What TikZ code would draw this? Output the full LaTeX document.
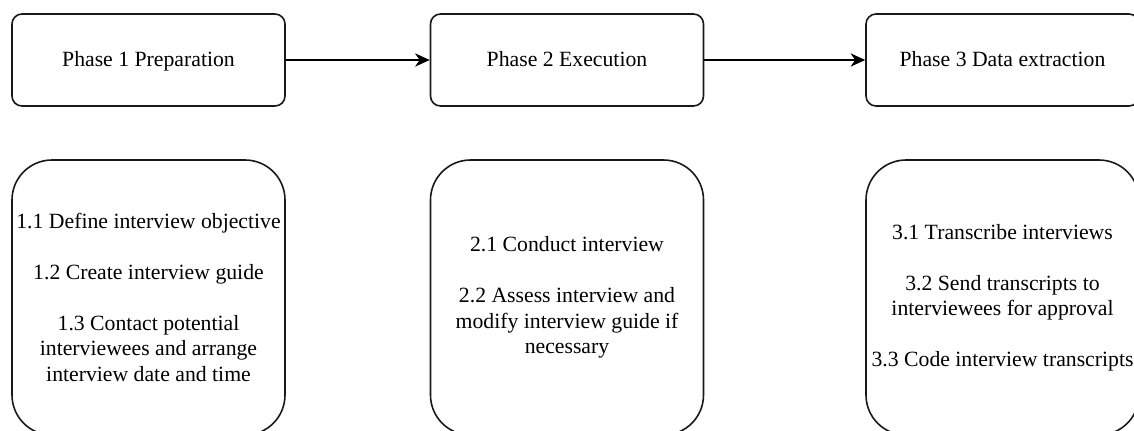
\documentclass[tikz,border=0pt]{standalone}
\usepackage{fontspec}
\setmainfont{Liberation Serif}
\usetikzlibrary{arrows.meta}

% one picture unit = one pixel of the 1134 x 430 layout
\tikzset{
  x=0.75pt, y=-0.75pt,
  phasebox/.style={draw=black!90, line width=1.2pt, rounded corners=7.5pt,
    minimum width=204.75pt, minimum height=69pt, inner sep=0pt,
    text height=13.5pt, text depth=3.5pt,
    font=\fontsize{16.3pt}{19.1pt}\selectfont},
  taskbox/.style={draw=black!90, line width=1.2pt, rounded corners=30pt,
    minimum width=204.75pt, minimum height=206.25pt, inner sep=0pt,
    font=\fontsize{16.3pt}{19.1pt}\selectfont, align=center},
  flow/.style={line width=1pt, draw=black,
    -{Stealth[length=11pt, width=10pt, inset=3.5pt]}}
}

\begin{document}
\begin{tikzpicture}
  \useasboundingbox (0,0) rectangle (1134,430);
  \clip (0,0) rectangle (1134,430);

  % phases
  \node[phasebox] (p1) at (148.5,60) {Phase 1 Preparation};
  \node[phasebox] (p2) at (567,60) {Phase 2 Execution};
  \node[phasebox] (p3) at (1002.5,60) {Phase 3 Data extraction};

  \draw[flow] (p1.east) -- (p2.west);
  \draw[flow] (p2.east) -- (p3.west);

  % tasks of each phase
  \node[taskbox] (t1) at (148.5,297.5) {1.1 Define interview objective\\[19.1pt]
    1.2 Create interview guide\\[19.1pt]
    1.3 Contact potential\\ interviewees and arrange\\ interview date and time};
  \node[taskbox] (t2) at (567,297.5) {2.1 Conduct interview\\[19.1pt]
    2.2 Assess interview and\\ modify interview guide if\\ necessary};
  \node[taskbox] (t3) at (1002.5,297.5) {3.1 Transcribe interviews\\[19.1pt]
    3.2 Send transcripts to\\ interviewees for approval\\[19.1pt]
    3.3 Code interview transcripts};
\end{tikzpicture}
\end{document}
